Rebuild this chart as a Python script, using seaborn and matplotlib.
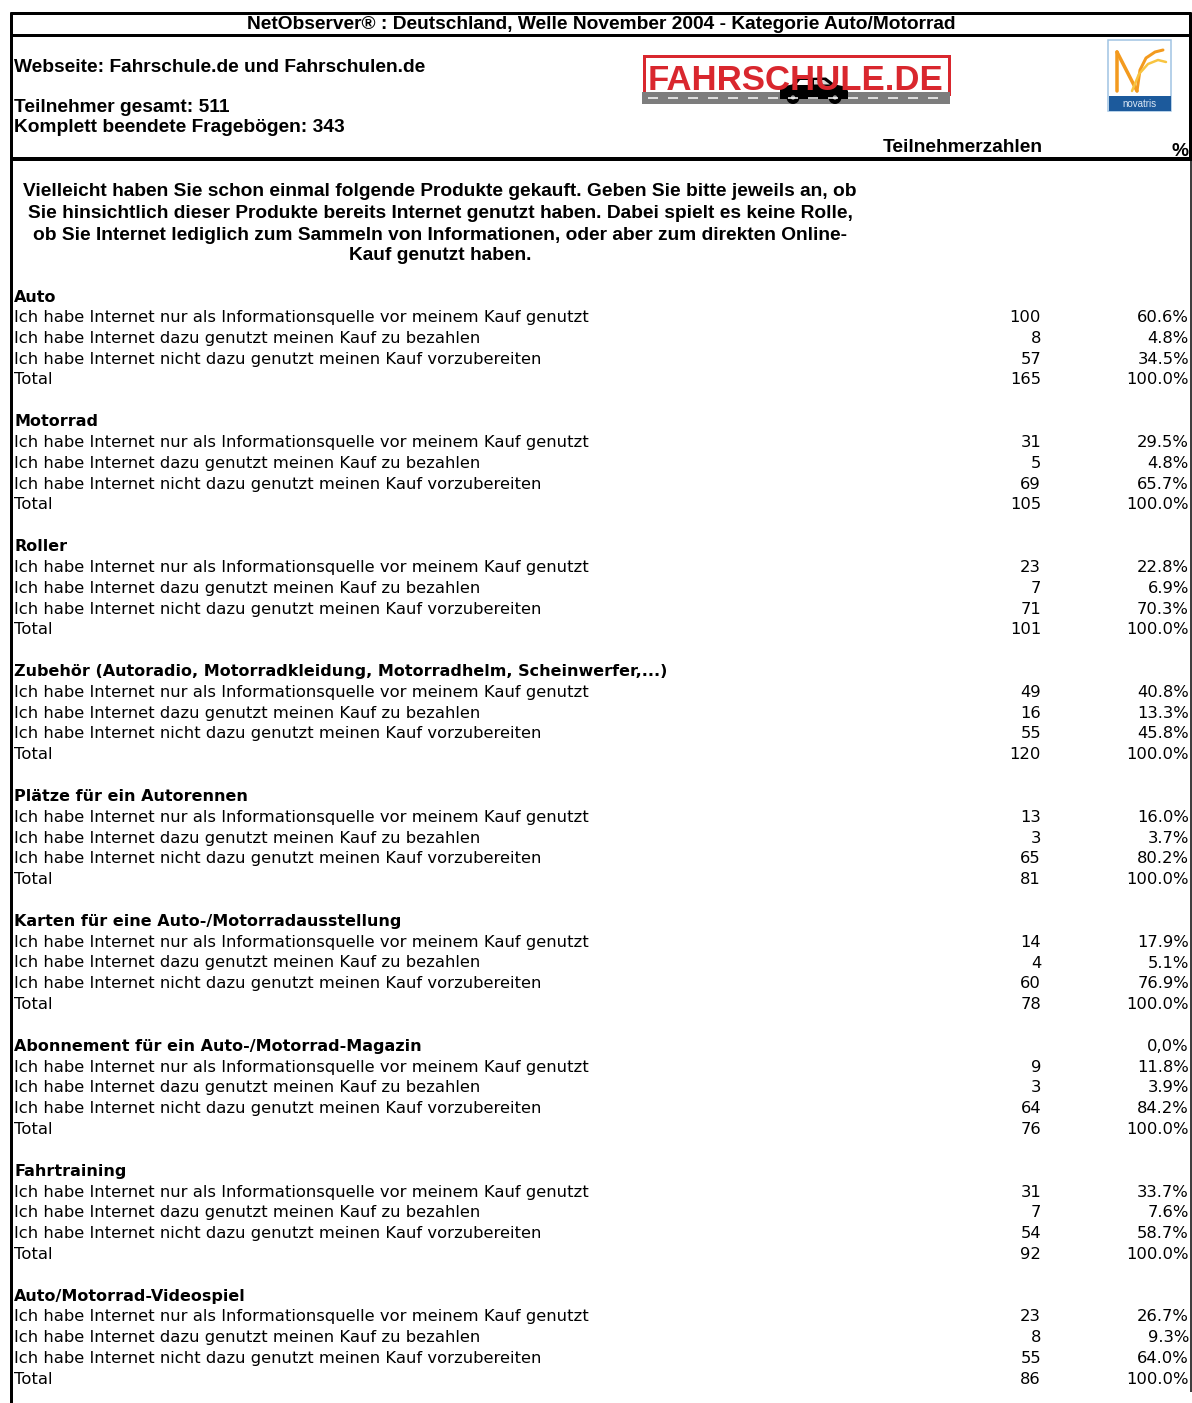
import matplotlib
matplotlib.use("Agg")
import matplotlib.pyplot as plt
import seaborn as sns
from matplotlib.patches import Rectangle, Circle, Polygon

# ---------------- data ----------------
title = "NetObserver® : Deutschland, Welle November 2004 - Kategorie Auto/Motorrad"
website = "Webseite: Fahrschule.de und Fahrschulen.de"
participants = "Teilnehmer gesamt: 511"
completed = "Komplett beendete Fragebögen: 343"
col_count = "Teilnehmerzahlen"
col_pct = "%"
question_lines = [
    "Vielleicht haben Sie schon einmal folgende Produkte gekauft. Geben Sie bitte jeweils an, ob",
    "Sie hinsichtlich dieser Produkte bereits Internet genutzt haben. Dabei spielt es keine Rolle,",
    "ob Sie Internet lediglich zum Sammeln von Informationen, oder aber zum direkten Online-",
    "Kauf genutzt haben.",
]
categories = [
    "Auto",
    "Motorrad",
    "Roller",
    "Zubehör (Autoradio, Motorradkleidung, Motorradhelm, Scheinwerfer,...)",
    "Plätze für ein Autorennen",
    "Karten für eine Auto-/Motorradausstellung",
    "Abonnement für ein Auto-/Motorrad-Magazin",
    "Fahrtraining",
    "Auto/Motorrad-Videospiel",
]
answers = [
    "Ich habe Internet nur als Informationsquelle vor meinem Kauf genutzt",
    "Ich habe Internet dazu genutzt meinen Kauf zu bezahlen",
    "Ich habe Internet nicht dazu genutzt meinen Kauf vorzubereiten",
]
total_label = "Total"
info_counts = [100, 31, 23, 49, 13, 14, 9, 31, 23]
pay_counts = [8, 5, 7, 16, 3, 4, 3, 7, 8]
none_counts = [57, 69, 71, 55, 65, 60, 64, 54, 55]
totals = [165, 105, 101, 120, 81, 78, 76, 92, 86]
info_pct = [60.6, 29.5, 22.8, 40.8, 16.0, 17.9, 11.8, 33.7, 26.7]
pay_pct = [4.8, 4.8, 6.9, 13.3, 3.7, 5.1, 3.9, 7.6, 9.3]
none_pct = [34.5, 65.7, 70.3, 45.8, 80.2, 76.9, 84.2, 58.7, 64.0]
header_pct = ["", "", "", "", "", "", "0,0%", "", ""]

# ---------------- figure ----------------
sns.set_theme(style="white")
plt.rcParams["text.color"] = "black"
W, H = 1192, 1403
fig = plt.figure(figsize=(W / 100, H / 100), dpi=100)
ax = fig.add_axes([0, 0, 1, 1])
ax.set_xlim(0, W)
ax.set_ylim(H, 0)
ax.axis("off")

ARIAL = ["Liberation Sans", "DejaVu Sans"]
VERD = ["DejaVu Sans"]
px = 0.72  # 1 px in points
FS_A = 13.8   # bold header font
FS_B = 11.75  # body font
FS_BB = 11.55  # bold section heading

# borders
ax.plot([10, 1191], [13, 13], color="black", lw=3 * px, solid_capstyle="butt")
ax.plot([10, 1191], [35, 35], color="black", lw=3 * px, solid_capstyle="butt")
ax.plot([10, 1192], [159, 159], color="black", lw=4 * px, solid_capstyle="butt")
ax.plot([11, 11], [12, H], color="black", lw=3 * px, solid_capstyle="butt")
ax.plot([1189.5, 1189.5], [12, 160], color="black", lw=3 * px, solid_capstyle="butt")
ax.plot([1190.5, 1190.5], [160, 1392], color="black", lw=1.5 * px, solid_capstyle="butt")

# header texts
ax.text(601, 29, title, family=ARIAL, weight="bold", fontsize=FS_A, ha="center", va="baseline")
ax.text(14, 72.5, website, family=ARIAL, weight="bold", fontsize=FS_A, ha="left", va="baseline")
ax.text(14, 112.5, participants, family=ARIAL, weight="bold", fontsize=FS_A, ha="left", va="baseline")
ax.text(14, 132.5, completed, family=ARIAL, weight="bold", fontsize=FS_A, ha="left", va="baseline")
ax.text(1043, 152.5, col_count, family=ARIAL, weight="bold", fontsize=FS_A, ha="right", va="baseline")
ax.text(1188, 156, col_pct, family=ARIAL, weight="bold", fontsize=FS_A, ha="right", va="baseline")

# FAHRSCHULE.DE logo
red = "#d9272e"
ax.add_patch(Rectangle((642, 54), 308, 50, facecolor="white", edgecolor="none"))
ax.add_patch(Rectangle((643.5, 55.5), 305, 38, facecolor="none", edgecolor=red, lw=3 * px))
ax.add_patch(Rectangle((642, 92), 308, 12, facecolor="#7d7d7d", edgecolor="none"))
for xd in range(648, 946, 20):
    ax.plot([xd, xd + 10], [98, 98], color="white", lw=1.5 * px, solid_capstyle="butt")
ax.text(796, 89.5, "FAHRSCHULE.DE", family=ARIAL, weight="bold", fontsize=25, color=red,
        ha="center", va="baseline")
car_body = Polygon([(780, 99), (780, 89), (785, 86), (792, 84.5), (797, 78), (826, 77.5),
                    (835, 84.5), (845, 86.5), (848, 91), (848, 99)], closed=True,
                   facecolor="black", edgecolor="none")
ax.add_patch(car_body)
ax.add_patch(Polygon([(800, 80), (811, 80), (811, 84.5), (796, 84.5)], closed=True,
                     facecolor="white", edgecolor="none"))
ax.add_patch(Polygon([(814, 80), (824, 80), (830, 84.5), (814, 84.5)], closed=True,
                     facecolor="#d8d8d8", edgecolor="none"))
for cx in (793, 835):
    ax.add_patch(Circle((cx, 97.5), 6.5, facecolor="black", edgecolor="none"))
    ax.add_patch(Circle((cx, 97.5), 2.2, facecolor="#9a9a9a", edgecolor="none"))

# novatris logo
ax.add_patch(Rectangle((1108, 40), 63, 71, facecolor="white", edgecolor="#9fc3e3", lw=1.5 * px))
ax.add_patch(Rectangle((1108.5, 96), 62, 15, facecolor="#1c5a9c", edgecolor="none"))
ax.text(1139.5, 107, "novatris", family=ARIAL, fontsize=7, color="#dce8f5", ha="center", va="baseline")
orange = "#f39a1e"
yellow = "#f8c440"
ax.plot([1117, 1117], [52, 91], color=orange, lw=3.5 * px, solid_capstyle="round")
ax.plot([1117, 1137], [52, 91], color=orange, lw=3.5 * px, solid_capstyle="round")
ax.plot([1137, 1140, 1146, 1155, 1163], [91, 70, 58, 52, 50], color=orange, lw=3 * px,
        solid_capstyle="round")
ax.plot([1132, 1139, 1148, 1158, 1166], [91, 74, 64, 60, 62], color=yellow, lw=2.5 * px,
        solid_capstyle="round")

# question
q_y = [191, 213, 234, 255]
for line, yy in zip(question_lines, q_y):
    ax.text(440, yy + 5.5, line, family=ARIAL, weight="bold", fontsize=FS_A, ha="center", va="baseline")

# sections
sec0 = 296
sec_step = 124.9
row_step = 20.75
x_lab = 14
x_cnt = 1041
x_pct = 1189
for i, cat in enumerate(categories):
    y0 = sec0 + i * sec_step
    ax.text(x_lab, y0 + 5.5, cat, family=VERD, weight="bold", fontsize=FS_BB, ha="left", va="baseline")
    if header_pct[i]:
        ax.text(x_pct, y0 + 5.5, header_pct[i], family=VERD, fontsize=FS_B, ha="right", va="baseline")
    rows = [
        (answers[0], info_counts[i], info_pct[i]),
        (answers[1], pay_counts[i], pay_pct[i]),
        (answers[2], none_counts[i], none_pct[i]),
        (total_label, totals[i], 100.0),
    ]
    for k, (lab, cnt, pct) in enumerate(rows):
        yy = y0 + (k + 1) * row_step + 5.5
        ax.text(x_lab, yy, lab, family=VERD, fontsize=FS_B, ha="left", va="baseline")
        ax.text(x_cnt, yy, f"{cnt}", family=VERD, fontsize=FS_B, ha="right", va="baseline")
        ax.text(x_pct, yy, f"{pct:.1f}%", family=VERD, fontsize=FS_B, ha="right", va="baseline")

fig.savefig("out.png", dpi=100, facecolor="white")
